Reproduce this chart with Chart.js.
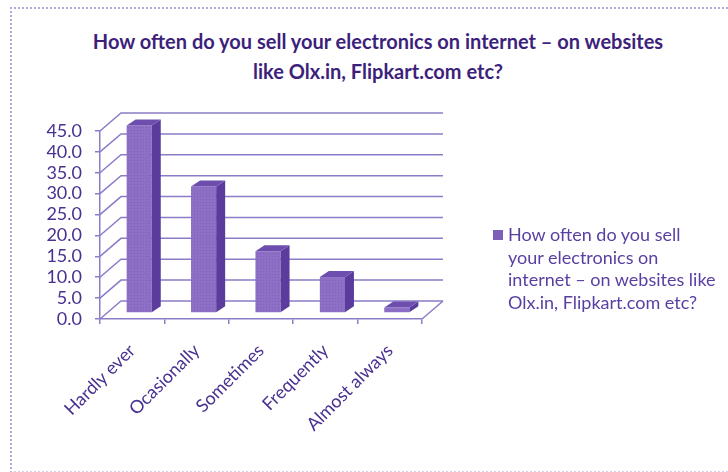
<!DOCTYPE html>
<html>
<head>
<meta charset="utf-8">
<script src="https://cdn.jsdelivr.net/npm/chart.js@4/dist/chart.umd.min.js"></script>
<style>
  html, body { margin: 0; padding: 0; background: #fff; overflow: hidden; }
  #wrap { position: relative; width: 728px; height: 472px; }
  #frame { position: absolute; left: 10px; top: 7px; width: 740px; height: 462px;
           border-left: 2px dotted #b7a6dd; border-top: 2px dotted #b7a6dd; border-bottom: 2px dotted #d6ccec; }
  #title { position: absolute; left: 28px; width: 700px; top: 26px; text-align: center;
           font: bold 20px Lato, sans-serif; line-height: 30px; color: #3d1f7c; }
  #legend { position: absolute; left: 493px; top: 223px; font: 18px Lato, sans-serif;
            line-height: 22.5px; color: #5a3fa2; }
  #legend .box { position: absolute; left: 0; top: 7px; width: 10px; height: 10px; background: #7d5fba; }
  #legend .txt { margin-left: 15px; white-space: nowrap; }
  canvas { position: absolute; left: 0; top: 0; }
</style>
</head>
<body>
<div id="wrap">
  <div id="frame"></div>
  <div id="title"></div>
  <canvas id="chart" width="728" height="472"></canvas>
  <div id="legend"><span class="box"></span><div class="txt"></div></div>
</div>
<script>
  const titleLines = ['How often do you sell your electronics on internet – on websites', 'like Olx.in, Flipkart.com etc?'];
  const seriesName = 'How often do you sell your electronics on internet – on websites like Olx.in, Flipkart.com etc?';
  const legendLines = ['How often do you sell', 'your electronics on', 'internet – on websites like', 'Olx.in, Flipkart.com etc?'];
  const categories = ['Hardly ever', 'Ocasionally', 'Sometimes', 'Frequently', 'Almost always'];
  const values = [44.9, 30.3, 14.8, 8.6, 1.3];
  const yTicks = [0, 5, 10, 15, 20, 25, 30, 35, 40, 45];

  document.getElementById('title').innerHTML = titleLines.join('<br>');
  document.querySelector('#legend .txt').innerHTML = legendLines.join('<br>');

  const gridColor = '#8c7cc8';
  const textColor = '#4a3090';
  const wallDX = 21, wallDY = -18;   // depth of the back wall
  const barDX = 7, barDY = -6;       // bars sit a bit behind the front plane
  const sideDX = 9, sideDY = -6;     // depth of each bar

  // dotted texture for the bar fronts
  const pc = document.createElement('canvas');
  pc.width = 3; pc.height = 3;
  const pctx = pc.getContext('2d');
  pctx.fillStyle = '#8d70c5';
  pctx.fillRect(0, 0, 3, 3);
  pctx.fillStyle = '#7f61bb';
  pctx.fillRect(1, 1, 1, 1);
  const barFill = pctx.createPattern(pc, 'repeat');

  const walls = {
    id: 'walls',
    beforeDatasetsDraw(chart) {
      const { ctx, scales: { x, y } } = chart;
      ctx.save();
      ctx.strokeStyle = gridColor;
      ctx.lineWidth = 1.5;
      yTicks.forEach(v => {
        const py = y.getPixelForValue(v);
        ctx.beginPath();
        ctx.moveTo(x.left, py);
        ctx.lineTo(x.left + wallDX, py + wallDY);
        ctx.lineTo(x.right + wallDX, py + wallDY);
        ctx.stroke();
      });
      ctx.beginPath();
      ctx.moveTo(x.right, y.bottom);
      ctx.lineTo(x.right + wallDX, y.bottom + wallDY);
      ctx.stroke();
      ctx.restore();
    },
    beforeDatasetDraw(chart) {
      chart.ctx.save();
      chart.ctx.translate(barDX, barDY);
    },
    afterDatasetDraw(chart, args) {
      const ctx = chart.ctx;
      args.meta.data.forEach(bar => {
        const l = bar.x - bar.width / 2, r = bar.x + bar.width / 2;
        const t = bar.y, b = bar.base;
        ctx.fillStyle = '#5b3c9d';
        ctx.beginPath();
        ctx.moveTo(r, t);
        ctx.lineTo(r + sideDX, t + sideDY);
        ctx.lineTo(r + sideDX, b + sideDY);
        ctx.lineTo(r, b);
        ctx.closePath();
        ctx.fill();
        ctx.fillStyle = '#6d4eae';
        ctx.beginPath();
        ctx.moveTo(l, t);
        ctx.lineTo(l + sideDX, t + sideDY);
        ctx.lineTo(r + sideDX, t + sideDY);
        ctx.lineTo(r, t);
        ctx.closePath();
        ctx.fill();
      });
      ctx.restore();
    }
  };

  new Chart(document.getElementById('chart'), {
    type: 'bar',
    data: {
      labels: categories,
      datasets: [{
        label: seriesName,
        data: values,
        backgroundColor: barFill,
        borderWidth: 0,
        categoryPercentage: 1,
        barPercentage: 0.39,
        clip: false
      }]
    },
    options: {
      responsive: false,
      animation: false,
      events: [],
      layout: { padding: { top: 131, right: 306, left: 0, bottom: 0 } },
      plugins: { legend: { display: false }, tooltip: { enabled: false } },
      scales: {
        x: {
          afterFit: s => { s.height = 153; },
          grid: { drawOnChartArea: false, color: gridColor, lineWidth: 1.5, tickLength: 5 },
          border: { color: gridColor, width: 1.5 },
          ticks: { color: textColor, font: { family: 'Lato', size: 18 }, minRotation: 45, maxRotation: 45, padding: 16, autoSkip: false }
        },
        y: {
          min: 0,
          max: 45,
          afterFit: s => { s.width = 100; },
          afterBuildTicks: s => { s.ticks = yTicks.map(v => ({ value: v })); },
          grid: { drawOnChartArea: false, color: gridColor, lineWidth: 1.5, tickLength: 5 },
          border: { color: gridColor, width: 1.5 },
          ticks: { color: textColor, font: { family: 'Lato', size: 18 }, padding: 13, autoSkip: false, callback: v => v.toFixed(1) }
        }
      }
    },
    plugins: [walls]
  });
</script>
</body>
</html>
